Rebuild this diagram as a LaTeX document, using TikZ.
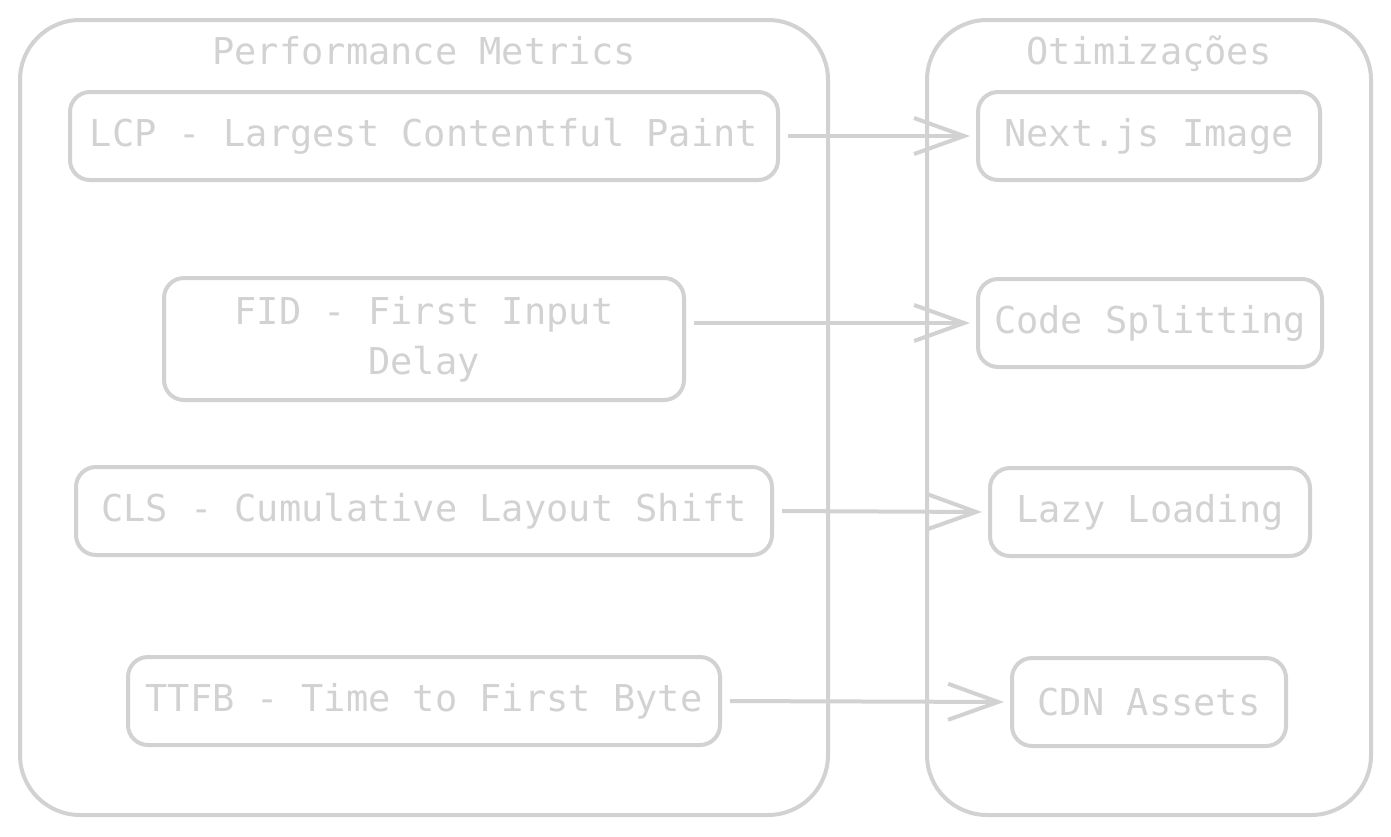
\documentclass[tikz,border=0pt]{standalone}
\usepackage{fontspec}
\usepackage{tikz}
\usetikzlibrary{positioning,arrows.meta}
\newfontfamily\sketchfont{DejaVu Sans Mono}
\definecolor{sketch}{RGB}{210,210,210}
\tikzset{
  group/.style={draw=sketch, line width=2pt, rounded corners=30pt, inner sep=0pt, minimum width=#1, minimum height=397.5pt},
  grouptitle/.style={text=sketch, anchor=base, font=\sketchfont\fontsize{18.5}{25}\selectfont},
  card/.style={draw=sketch, line width=2pt, rounded corners=10pt, inner sep=0pt, minimum width=#1, minimum height=44pt, align=center, text=sketch, font=\sketchfont\fontsize{18.5}{25}\selectfont},
  card/.default={150pt},
  arrow/.style={-{Straight Barb[length=25pt, width=18pt, line width=2pt]}, line width=2pt, draw=sketch, shorten <=4pt, shorten >=3pt}
}
\begin{document}
\begin{tikzpicture}[x=0.5pt, y=-0.5pt]
  \useasboundingbox (0,0) rectangle (1391,836);
  \node[group=404pt] (metrics) at (424,417.5) {};
  \node[group=222pt] (otim) at (1149,417.5) {};
  \node[grouptitle] (metricstitle) at (424,64) {Performance Metrics};
  \node[grouptitle] (otimtitle) at (1149,64) {Otimizações};
  \node[card=354pt] (lcp) at (424,136) {LCP - Largest Contentful Paint};
  \node[card=260pt, minimum height=61pt] (fid) at (424,339) {FID - First Input\\Delay};
  \node[card=348pt] (cls) at (424,511) {CLS - Cumulative Layout Shift};
  \node[card=296pt] (ttfb) at (424,701) {TTFB - Time to First Byte};
  \node[card=171pt] (nextimg) at (1149,136) {Next.js Image};
  \node[card=172pt] (codesplit) at (1150,323) {Code Splitting};
  \node[card=160pt] (lazy) at (1150,512) {Lazy Loading};
  \node[card=137pt] (cdn) at (1149,702) {CDN Assets};
  \draw[arrow] (lcp.east) -- (nextimg.west);
  \draw[arrow] (fid.east |- codesplit.west) -- (codesplit.west);
  \draw[arrow] (cls.east) -- (lazy.west);
  \draw[arrow] (ttfb.east) -- (cdn.west);
\end{tikzpicture}
\end{document}
